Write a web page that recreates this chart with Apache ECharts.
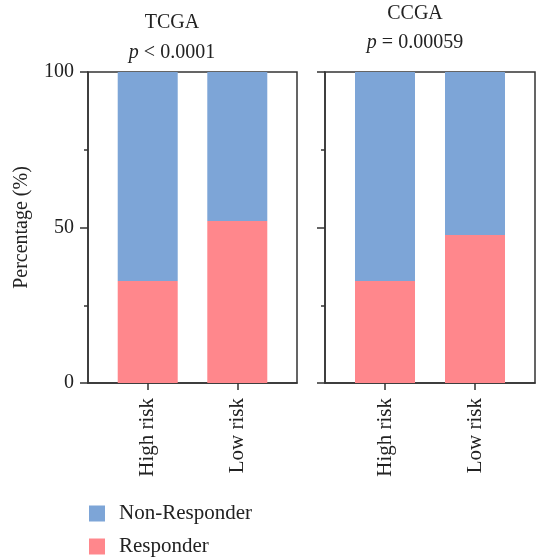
<!DOCTYPE html>
<html>
<head>
<meta charset="utf-8">
<script src="https://cdn.jsdelivr.net/npm/echarts@6/dist/echarts.min.js"></script>
<style>
  html, body { margin: 0; padding: 0; background: #fff; }
  #chart { width: 537px; height: 557px; }
</style>
</head>
<body>
<div id="chart"></div>
<script>
// Response groups by risk score in two cohorts (percent of patients)
const categories = ['High risk', 'Low risk'];
const cohorts = ['TCGA', 'CCGA'];
const pLabels = ['< 0.0001', '= 0.00059'];
const tcgaResponder = [32.8, 52.1];
const tcgaNonResponder = [67.2, 47.9];
const ccgaResponder = [32.8, 47.6];
const ccgaNonResponder = [67.2, 52.4];
const yTicks = [0, 50, 100];

const FONT = 'Liberation Serif';
const INK = '#222';
const AXIS = '#333';
const RED = '#ff878c';
const BLUE = '#7da5d7';

// the x axis has 8 evenly spaced slots; groups sit in slots 2 and 5,
// leaving room between the bars and the frame
const SLOTS = 8;
const slotOf = i => 2 + 3 * i;
const axisData = Array.from({ length: SLOTS }, (_, s) => {
  const i = categories.findIndex((c, k) => slotOf(k) === s);
  return i >= 0 ? categories[i] : '';
});
const isGroup = idx => axisData[idx] !== '';
const spread = vals => axisData.map((c, s) => {
  const i = categories.indexOf(c);
  return i >= 0 && c !== '' ? vals[i] : '-';
});

const grids = [
  { left: 88, top: 72, width: 209, height: 311 },
  { left: 325, top: 72, width: 210, height: 311 }
];

function xAxis(idx) {
  return {
    type: 'category', gridIndex: idx, data: axisData, boundaryGap: false,
    splitLine: { show: false },
    axisLine: { show: true, lineStyle: { color: AXIS, width: 1.5 } },
    axisTick: { show: true, length: 7, interval: (i) => isGroup(i),
                lineStyle: { color: AXIS, width: 1.5 } },
    axisLabel: {
      interval: (i) => isGroup(i),
      rotate: 90, margin: 15, fontFamily: FONT, fontSize: 21, color: INK
    }
  };
}

function yAxis(idx, showLabels) {
  return {
    type: 'value', gridIndex: idx, min: 0, max: 100, interval: 50,
    name: showLabels ? 'Percentage (%)' : '',
    nameLocation: 'middle', nameGap: 56,
    nameTextStyle: { fontFamily: FONT, fontSize: 20, color: INK },
    splitLine: { show: false },
    axisLine: { show: true, lineStyle: { color: AXIS, width: 1.5 } },
    axisTick: { show: true, length: 8, lineStyle: { color: AXIS, width: 1.5 } },
    minorTick: { show: true, splitNumber: 2, length: 4, lineStyle: { color: AXIS, width: 1.5 } },
    axisLabel: {
      show: showLabels, margin: 14, fontFamily: FONT, fontSize: 20, color: INK,
      formatter: v => yTicks.includes(v) ? String(v) : ''
    }
  };
}

function bars(name, data, idx, color) {
  return {
    name, type: 'bar', stack: 'panel' + idx, xAxisIndex: idx, yAxisIndex: idx,
    barWidth: 60, data: spread(data), itemStyle: { color },
    emphasis: { disabled: true }, animation: false
  };
}

function header(x, y1, y2, cohort, p) {
  return [
    { type: 'text', x, y: y1, style: { text: cohort, textAlign: 'center', textVerticalAlign: 'middle',
      fontFamily: FONT, fontSize: 20, fill: INK } },
    { type: 'text', x, y: y2, style: {
      text: '{i|p} ' + p, textAlign: 'center', textVerticalAlign: 'middle',
      fontFamily: FONT, fontSize: 20, fill: INK,
      rich: { i: { fontStyle: 'italic', fontFamily: FONT, fontSize: 20, fill: INK } } } }
  ];
}

const chart = echarts.init(document.getElementById('chart'), null, { renderer: 'canvas' });
chart.setOption({
  animation: false,
  textStyle: { fontFamily: FONT },
  grid: grids.map(g => Object.assign({ show: true, borderColor: AXIS, borderWidth: 1.5,
    backgroundColor: 'transparent' }, g)),
  xAxis: [xAxis(0), xAxis(1)],
  yAxis: [yAxis(0, true), yAxis(1, false)],
  legend: {
    orient: 'vertical', left: 89, top: 503, itemWidth: 16, itemHeight: 16, itemGap: 12,
    padding: 0, icon: 'rect',
    data: ['Non-Responder', 'Responder'],
    textStyle: { fontFamily: FONT, fontSize: 21, color: INK, padding: [0, 0, 0, 9] },
    selectedMode: false
  },
  graphic: [
    ...header(172, 23, 53, cohorts[0], pLabels[0]),
    ...header(415, 14, 43, cohorts[1], pLabels[1])
  ],
  series: [
    bars('Responder', tcgaResponder, 0, RED),
    bars('Non-Responder', tcgaNonResponder, 0, BLUE),
    bars('Responder', ccgaResponder, 1, RED),
    bars('Non-Responder', ccgaNonResponder, 1, BLUE)
  ]
});
</script>
</body>
</html>
